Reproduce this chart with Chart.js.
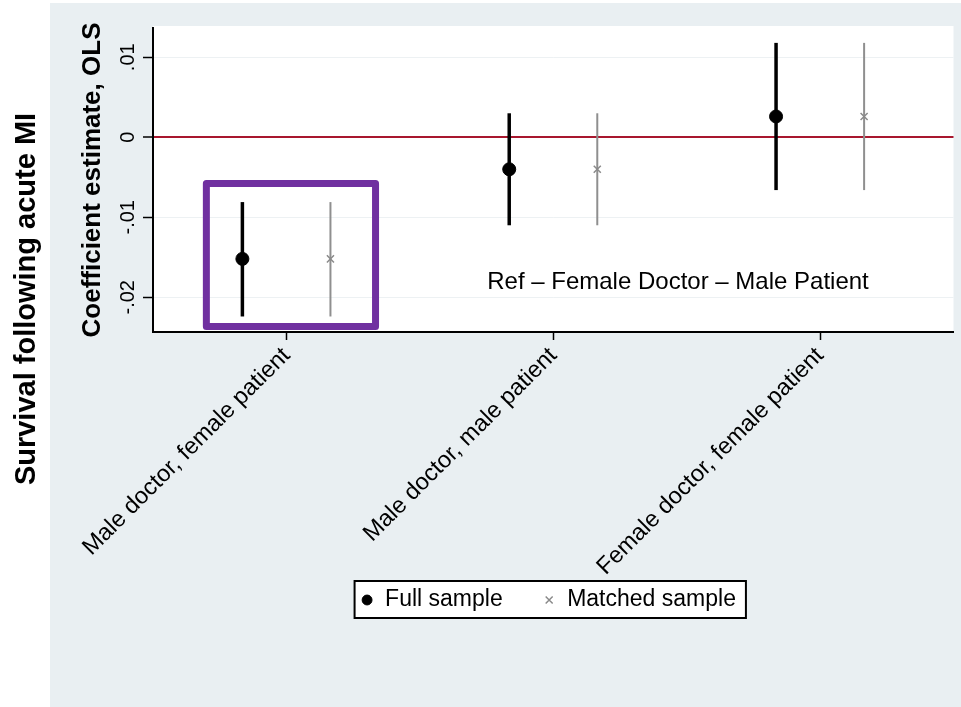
<!DOCTYPE html>
<html>
<head>
<meta charset="utf-8">
<title>Survival following acute MI</title>
<script src="https://cdn.jsdelivr.net/npm/chart.js@4.4.1/dist/chart.umd.min.js"></script>
<style>
  html, body { margin: 0; padding: 0; background: #ffffff; }
  canvas { display: block; }
</style>
</head>
<body>
<canvas id="coefChart" width="961" height="707"></canvas>
<script>
// Datos
var categories = ['Male doctor, female patient', 'Male doctor, male patient', 'Female doctor, female patient'];
var seriesNames = ['Full sample', 'Matched sample'];

var fullEst = [-0.0152, -0.0040, 0.0026];
var fullLow = [-0.0224, -0.0110, -0.0066];
var fullHigh = [-0.0081, 0.0030, 0.0118];

var matchedEst = [-0.0152, -0.0040, 0.0026];
var matchedLow = [-0.0224, -0.0110, -0.0066];
var matchedHigh = [-0.0081, 0.0030, 0.0118];

var yTicks = [-0.02, -0.01, 0, 0.01];
var yTickLabels = ['-.02', '-.01', '0', '.01'];

var refNote = 'Ref \u2013 Female Doctor \u2013 Male Patient';
var outerTitle = 'Survival following acute MI';
var yTitle = 'Coefficient estimate, OLS';

var FONT = "'Liberation Sans', Arial, Helvetica, sans-serif";
var dodge = 0.165;

// mover la leyenda (mas arriba y un poco a la izquierda)
var legendShiftPlugin = {
    id: 'legendShift',
    afterLayout: function (chart) {
        var lg = chart.legend;
        lg.top -= 31.5;
        lg.bottom -= 31.5;
        lg.left -= 5;
        lg.right -= 5;
    }
};

// fondo gris, area blanca y marco de la leyenda
var backgroundPlugin = {
    id: 'background',
    beforeDraw: function (chart) {
        var ctx = chart.ctx;
        var a = chart.chartArea;
        ctx.save();
        ctx.fillStyle = '#e9eff2';
        ctx.fillRect(50, 3, chart.width - 50, chart.height - 3);
        ctx.fillStyle = '#ffffff';
        ctx.fillRect(a.left, a.top - 2, a.right - a.left, a.bottom - a.top + 2);

        var hb = chart.legend.legendHitBoxes;
        if (hb && hb.length) {
            var first = hb[0], last = hb[hb.length - 1];
            var l = first.left - 6, r = last.left + last.width + 10;
            var t = first.top - 7.5, b = first.top + first.height + 6.5;
            ctx.fillRect(l, t, r - l, b - t);
            ctx.strokeStyle = '#000000';
            ctx.lineWidth = 2;
            ctx.strokeRect(l, t, r - l, b - t);
        }
        ctx.restore();
    }
};

// barras de intervalo de confianza
var errorBarPlugin = {
    id: 'errorBars',
    beforeDatasetsDraw: function (chart) {
        var ctx = chart.ctx;
        var yScale = chart.scales.y;
        chart.data.datasets.forEach(function (ds, i) {
            var meta = chart.getDatasetMeta(i);
            ctx.save();
            ctx.strokeStyle = ds.barColor;
            ctx.lineWidth = ds.barWidth;
            meta.data.forEach(function (pt, j) {
                ctx.beginPath();
                ctx.moveTo(pt.x, yScale.getPixelForValue(ds.low[j]));
                ctx.lineTo(pt.x, yScale.getPixelForValue(ds.high[j]));
                ctx.stroke();
            });
            ctx.restore();
        });
    }
};

// textos extra y recuadro morado
var annotationPlugin = {
    id: 'annotations',
    afterDraw: function (chart) {
        var ctx = chart.ctx;
        var xs = chart.scales.x, ys = chart.scales.y;
        ctx.save();

        // etiquetas del eje y, giradas
        ctx.fillStyle = '#000000';
        ctx.font = '20px ' + FONT;
        ctx.textAlign = 'center';
        ctx.textBaseline = 'middle';
        yTicks.forEach(function (v, i) {
            ctx.save();
            ctx.translate(128, ys.getPixelForValue(v));
            ctx.rotate(-Math.PI / 2);
            ctx.fillText(yTickLabels[i], 0, 0);
            ctx.restore();
        });

        // titulo exterior
        ctx.save();
        ctx.font = 'bold 29px ' + FONT;
        ctx.textBaseline = 'alphabetic';
        ctx.translate(35, 299);
        ctx.rotate(-Math.PI / 2);
        ctx.fillText(outerTitle, 0, 0);
        ctx.restore();

        // nota de referencia
        ctx.font = '24px ' + FONT;
        ctx.textAlign = 'left';
        ctx.textBaseline = 'alphabetic';
        ctx.fillText(refNote, xs.getPixelForValue(0.7526), ys.getPixelForValue(-0.01896));

        // recuadro morado del primer grupo
        var bx0 = xs.getPixelForValue(-0.300), bx1 = xs.getPixelForValue(0.334);
        var by0 = ys.getPixelForValue(-0.00578), by1 = ys.getPixelForValue(-0.02365);
        ctx.strokeStyle = '#7030a0';
        ctx.lineWidth = 7;
        ctx.lineJoin = 'round';
        ctx.strokeRect(bx0, by0, bx1 - bx0, by1 - by0);

        ctx.restore();
    }
};

new Chart(document.getElementById('coefChart'), {
    type: 'scatter',
    data: {
        datasets: [{
            label: seriesNames[0],
            data: fullEst.map(function (v, i) { return { x: i - dodge, y: v }; }),
            low: fullLow,
            high: fullHigh,
            pointStyle: 'circle',
            pointRadius: 6.5,
            backgroundColor: '#000000',
            borderColor: '#000000',
            borderWidth: 1,
            barColor: '#000000',
            barWidth: 3.5
        }, {
            label: seriesNames[1],
            data: matchedEst.map(function (v, i) { return { x: i + dodge, y: v }; }),
            low: matchedLow,
            high: matchedHigh,
            pointStyle: 'crossRot',
            pointRadius: 5,
            backgroundColor: '#8a8a8a',
            borderColor: '#8a8a8a',
            borderWidth: 1.5,
            barColor: '#8f8f8f',
            barWidth: 2
        }]
    },
    options: {
        responsive: false,
        animation: false,
        layout: { padding: { left: 50, top: 28, right: 4, bottom: 54 } },
        plugins: {
            tooltip: { enabled: false },
            legend: {
                position: 'bottom',
                fullSize: false,
                labels: {
                    usePointStyle: true,
                    boxWidth: 13,
                    boxHeight: 7,
                    padding: 40,
                    color: '#000000',
                    font: { family: FONT, size: 23 }
                }
            }
        },
        scales: {
            x: {
                type: 'linear',
                min: -0.5,
                max: 2.5,
                afterBuildTicks: function (scale) {
                    scale.ticks = categories.map(function (c, i) { return { value: i }; });
                },
                afterFit: function (scale) { scale.height = 248; },
                ticks: {
                    autoSkip: false,
                    minRotation: 45,
                    maxRotation: 45,
                    padding: 2,
                    color: '#000000',
                    font: { family: FONT, size: 23.5 },
                    callback: function (v) { return categories[v]; }
                },
                grid: { drawOnChartArea: false, drawTicks: true, tickLength: 8, tickColor: '#000000', tickWidth: 1.5 },
                border: { color: '#000000', width: 2 }
            },
            y: {
                min: -0.02434,
                max: 0.01366,
                afterBuildTicks: function (scale) {
                    scale.ticks = yTicks.map(function (v) { return { value: v }; });
                },
                afterFit: function (scale) { scale.width = 103; },
                ticks: { display: false },
                title: {
                    display: true,
                    text: yTitle,
                    color: '#000000',
                    font: { family: FONT, size: 26, weight: 'bold' },
                    padding: { top: 27, bottom: 0 }
                },
                grid: {
                    color: function (c) { return c.tick && c.tick.value === 0 ? '#a8172e' : '#edf1f3'; },
                    lineWidth: function (c) { return c.tick && c.tick.value === 0 ? 2 : 1; },
                    drawTicks: true,
                    tickLength: 10,
                    tickColor: '#000000',
                    tickWidth: 1.5
                },
                border: { color: '#000000', width: 2 }
            }
        }
    },
    plugins: [legendShiftPlugin, backgroundPlugin, errorBarPlugin, annotationPlugin]
});
</script>
</body>
</html>
